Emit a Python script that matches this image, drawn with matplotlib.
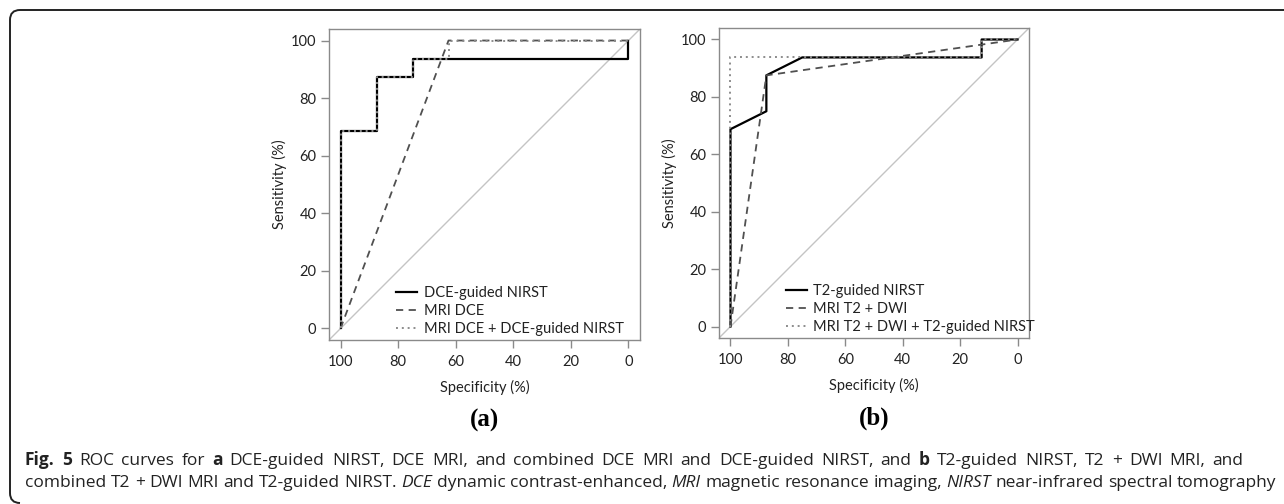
import matplotlib
matplotlib.use("Agg")
import matplotlib.pyplot as plt
from matplotlib.path import Path
from matplotlib.patches import PathPatch

# ---- data (specificity %, sensitivity %) ----
a_spec_nirst = [100, 100, 87.5, 87.5, 75, 75, 0, 0]
a_sens_nirst = [0, 68.75, 68.75, 87.5, 87.5, 93.75, 93.75, 100]
a_spec_mri = [100, 62.5, 0]
a_sens_mri = [0, 100, 100]
a_spec_comb = [100, 100, 87.5, 87.5, 75, 75, 62.5, 62.5, 0]
a_sens_comb = [0, 68.75, 68.75, 87.5, 87.5, 93.75, 93.75, 100, 100]

b_spec_nirst = [100, 100, 87.5, 87.5, 75, 12.5, 12.5, 0]
b_sens_nirst = [0, 68.75, 75, 87.5, 93.75, 93.75, 100, 100]
b_spec_mri = [100, 87.5, 0]
b_sens_mri = [0, 87.5, 100]
b_spec_comb = [100, 100, 12.5, 12.5, 0]
b_sens_comb = [0, 93.75, 93.75, 100, 100]

labels_a = ["DCE-guided NIRST", "MRI DCE", "MRI DCE + DCE-guided NIRST"]
labels_b = ["T2-guided NIRST", "MRI T2 + DWI", "MRI T2 + DWI + T2-guided NIRST"]
ticks = [100, 80, 60, 40, 20, 0]

FONT = ["Lato", "DejaVu Sans"]
plt.rcParams["font.family"] = FONT

W, H = 1284, 504
fig = plt.figure(figsize=(W / 100, H / 100), dpi=100)


def px_axes(l, t, r, b):
    return fig.add_axes([l / W, 1 - b / H, (r - l) / W, (b - t) / H])


def roc_panel(ax, curves, labels, tag):
    ax.axline((100, 0), (0, 100), color="#c4c4c4", lw=1.0, zorder=1)
    (xs, ys), (xm, ym), (xc, yc) = curves
    ax.plot(xs, ys, color="black", lw=1.6, label=labels[0], zorder=3)
    ax.plot(xm, ym, color="#505050", lw=1.3, ls=(0, (4, 3)), label=labels[1], zorder=4)
    ax.plot(xc, yc, color="#8c8c8c", lw=1.4, ls=(0, (1, 2)), label=labels[2], zorder=5)
    ax.set_xlim(104, -4)
    ax.set_ylim(-4, 104)
    ax.set_xticks(ticks)
    ax.set_yticks(ticks)
    for s in ax.spines.values():
        s.set_color("#8a8a8a")
        s.set_linewidth(1.0)
    ax.tick_params(direction="out", length=6, width=1.0, color="#8a8a8a",
                   labelsize=10.5, labelcolor="#222222", pad=3)
    ax.tick_params(axis="x", pad=5)
    ax.set_xlabel("Specificity (%)", fontsize=10.5, color="#222222")
    ax.set_ylabel("Sensitivity (%)", fontsize=10.5, color="#222222")
    ax.xaxis.set_label_coords(0.5, -0.13)
    ax.yaxis.set_label_coords(-0.135, 0.5)
    ax.legend(loc="lower left", bbox_to_anchor=(0.215, 0.012), frameon=False,
              fontsize=10.5, handlelength=1.45, handletextpad=0.45,
              labelspacing=0.28, borderpad=0, borderaxespad=0,
              labelcolor="#222222")
    ax.text(0.5, -0.26, tag, transform=ax.transAxes, ha="center", va="center",
            fontsize=18, fontweight="bold", family="Liberation Serif")


ax_a = px_axes(329, 29, 640, 340)
roc_panel(ax_a, [(a_spec_nirst, a_sens_nirst), (a_spec_mri, a_sens_mri),
                 (a_spec_comb, a_sens_comb)], labels_a, "(a)")
ax_b = px_axes(719, 28, 1029, 338)
roc_panel(ax_b, [(b_spec_nirst, b_sens_nirst), (b_spec_mri, b_sens_mri),
                 (b_spec_comb, b_sens_comb)], labels_b, "(b)")

# outer frame: top rule and left side with rounded corners
r = 10
verts = [(W, 10), (10 + r, 10), (10, 10), (10, 10 + r), (10, H - 1 - r), (10, H - 1), (10 + r, H - 1)]
codes = [Path.MOVETO, Path.LINETO, Path.CURVE3, Path.CURVE3, Path.LINETO, Path.CURVE3, Path.CURVE3]
verts = [(x / W, 1 - y / H) for x, y in verts]
fig.patches.append(PathPatch(Path(verts, codes), transform=fig.transFigure,
                             fill=False, edgecolor="#222222", lw=1.4))

# caption, two lines of mixed styles
cap_font = ["Open Sans", "DejaVu Sans"]
line1 = [("Fig. 5", "bold", "normal"), (" ROC curves for ", "normal", "normal"),
         ("a", "bold", "normal"),
         (" DCE-guided NIRST, DCE MRI, and combined DCE MRI and DCE-guided NIRST, and ", "normal", "normal"),
         ("b", "bold", "normal"), (" T2-guided NIRST, T2 + DWI MRI, and", "normal", "normal")]
line2 = [("combined T2 + DWI MRI and T2-guided NIRST. ", "normal", "normal"),
         ("DCE", "normal", "italic"), (" dynamic contrast-enhanced, ", "normal", "normal"),
         ("MRI", "normal", "italic"), (" magnetic resonance imaging, ", "normal", "normal"),
         ("NIRST", "normal", "italic"), (" near-infrared spectral tomography", "normal", "normal")]

fig.canvas.draw()
rend = fig.canvas.get_renderer()


def words(parts):
    # split into (word, weight, style) tokens; None marks a space
    out = []
    for txt, wt, st in parts:
        for i, w in enumerate(txt.split(" ")):
            if i > 0:
                out.append(None)
            if w:
                out.append((w, wt, st))
    return out


def measure(tok, size):
    t = fig.text(0, 0, tok[0], fontsize=size, fontweight=tok[1], fontstyle=tok[2],
                 family=cap_font)
    w = t.get_window_extent(renderer=rend).width
    t.remove()
    return w


def space_w(size):
    a = measure(("a a", "normal", "normal"), size)
    b = measure(("aa", "normal", "normal"), size)
    return a - b


def natural_width(parts, size):
    sp = space_w(size)
    return sum(measure(t, size) if t else sp for t in words(parts))


def place(parts, x, y, size, target):
    toks = words(parts)
    widths = [measure(t, size) if t else 0 for t in toks]
    n_sp = sum(1 for t in toks if t is None)
    sp = space_w(size)
    natural = sum(widths) + n_sp * sp
    gap = sp + min(max(0, target - natural) / n_sp, 0.6 * sp)
    cur = x
    for t, w in zip(toks, widths):
        if t is None:
            cur += gap
            continue
        fig.text(cur / W, 1 - y / H, t[0], fontsize=size, fontweight=t[1],
                 fontstyle=t[2], family=cap_font, color="#222222",
                 va="baseline", ha="left")
        cur += w


# pick the size so the longer line spans the measured caption width
base = 12.0
longest = max(natural_width(line1, base), natural_width(line2, base))
cap_size = base * 1242 / longest
place(line1, 25, 465, cap_size, 1237)
place(line2, 25, 487, cap_size, 1245)

fig.savefig("out.png", dpi=100)
